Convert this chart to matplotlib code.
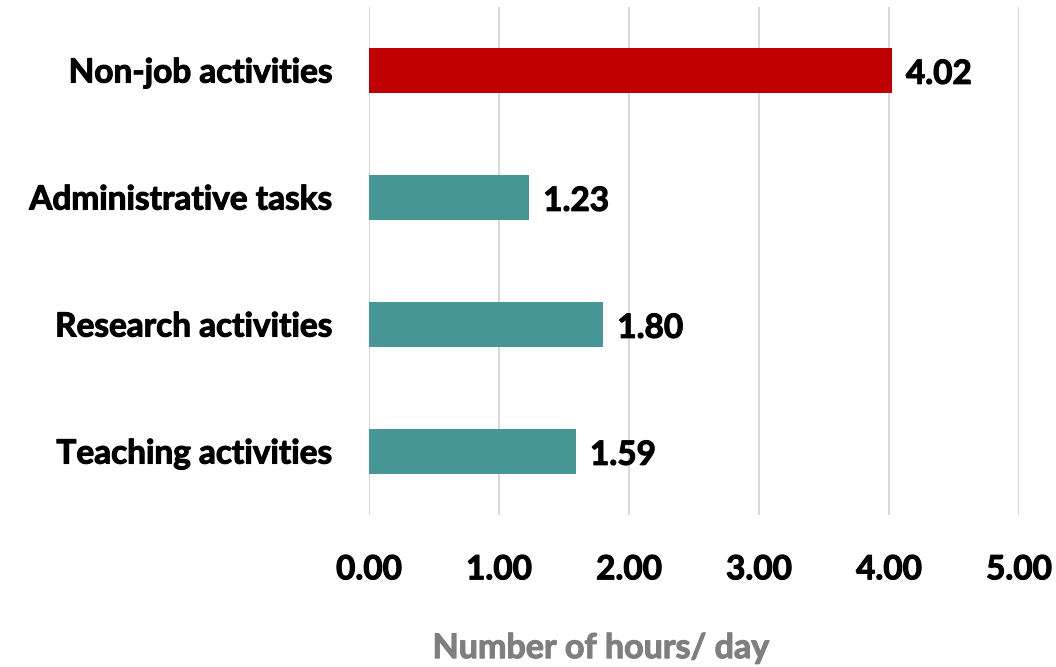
import matplotlib.pyplot as plt
import matplotlib.patheffects as pe

categories = ['Teaching activities', 'Research activities', 'Administrative tasks', 'Non-job activities']
hours = [1.59, 1.80, 1.23, 4.02]
colors = ['#469796', '#469796', '#469796', '#C00000']
ticks = [0, 1, 2, 3, 4, 5]

plt.rcParams['font.family'] = ['Lato', 'DejaVu Sans']
plt.rcParams['font.weight'] = 'bold'
fs = 24
thick = [pe.withStroke(linewidth=0.8, foreground='black')]

fig = plt.figure(figsize=(10.56, 6.67), dpi=100)
ax = fig.add_axes([369 / 1056, 1 - 515 / 667, 650 / 1056, 508 / 667])

bars = ax.barh(range(len(categories)), hours, height=0.36, color=colors, zorder=3)
for b, v in zip(bars, hours):
    ax.text(b.get_width() + 0.11, b.get_y() + b.get_height() / 2 - 0.03, f'{v:.2f}',
            va='center', ha='left', fontsize=fs, fontweight='bold', path_effects=thick)

ax.set_xlim(0, 5)
ax.set_ylim(-0.5, 3.5)
ax.set_yticks(range(len(categories)))
ax.set_yticklabels(categories, fontsize=fs, fontweight='bold')
ax.set_xticks(ticks)
ax.set_xticklabels([f'{t:.2f}' for t in ticks], fontsize=fs, fontweight='bold')
for lab in ax.get_xticklabels() + ax.get_yticklabels():
    lab.set_path_effects(thick)
ax.tick_params(axis='both', length=0)
ax.tick_params(axis='y', pad=26)
ax.tick_params(axis='x', pad=29)
ax.grid(axis='x', color='#D9D9D9', linewidth=1.5, zorder=0)
for s in ax.spines.values():
    s.set_visible(False)

# axis title sits left of the plot-area centre in the original
xl = ax.set_xlabel('Number of hours/ day', fontsize=24.5, fontweight='bold', color='#7F7F7F',
                   path_effects=[pe.withStroke(linewidth=0.8, foreground='#7F7F7F')])
xl.set_va('center')
ax.xaxis.set_label_coords(0.357, -0.262)

fig.savefig('out.png', dpi=100)
